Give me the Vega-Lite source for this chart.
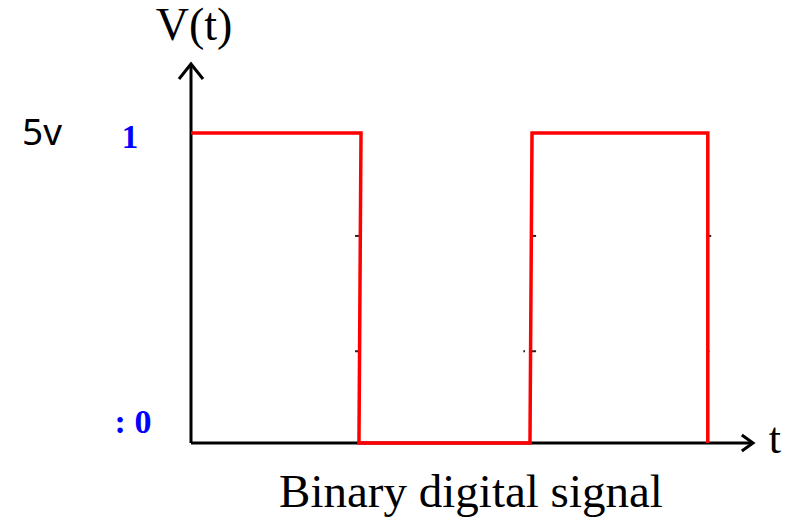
{
  "$schema": "https://vega.github.io/schema/vega-lite/v6.json",
  "width": 790,
  "height": 526,
  "autosize": {"type": "fit", "contains": "padding"},
  "padding": 0,
  "background": "white",
  "config": {"view": {"stroke": null}},
  "datasets": {
    "signal": [
      {"t": 0, "V": 5},
      {"t": 1.0, "V": 5},
      {"t": 0.988, "V": 0},
      {"t": 1.994, "V": 0},
      {"t": 2.006, "V": 5},
      {"t": 3.04, "V": 5},
      {"t": 3.04, "V": 0}
    ],
    "axes": [
      {"t": 0, "V": 0, "t2": 3.3, "V2": 0},
      {"t": 0, "V": 0, "t2": 0, "V2": 6.1}
    ],
    "ticks": [
      {"t": 0.965, "t2": 0.995, "V": 3.34},
      {"t": 0.965, "t2": 0.995, "V": 1.48},
      {"t": 2.0, "t2": 2.03, "V": 3.34},
      {"t": 2.0, "t2": 2.03, "V": 1.48},
      {"t": 1.955, "t2": 1.965, "V": 1.48},
      {"t": 3.03, "t2": 3.06, "V": 3.34},
      {"t": 3.035, "t2": 3.05, "V": 1.48}
    ]
  },
  "encoding": {
    "x": {"field": "t", "type": "quantitative", "scale": {"domain": [-1.12353, 3.52353], "nice": false, "zero": false}, "axis": null},
    "y": {"field": "V", "type": "quantitative", "scale": {"domain": [-1.3387, 7.1452], "nice": false, "zero": false}, "axis": null}
  },
  "layer": [
    {
      "data": {"name": "axes"},
      "mark": {"type": "rule", "color": "black", "strokeWidth": 3},
      "encoding": {"x2": {"field": "t2"}, "y2": {"field": "V2"}}
    },
    {
      "data": {"name": "ticks"},
      "mark": {"type": "rule", "color": "#222222", "strokeWidth": 2},
      "encoding": {"x2": {"field": "t2"}}
    },
    {
      "data": {"values": [{"t": 0, "V": 6.113}]},
      "mark": {"type": "point", "shape": "M-1,1.25L0,0L1,1.25", "size": 576, "filled": false, "stroke": "black", "strokeWidth": 3, "opacity": 1}
    },
    {
      "data": {"values": [{"t": 3.306, "V": 0}]},
      "mark": {"type": "point", "shape": "M-1.4,-1L0,0L-1.4,1", "size": 256, "filled": false, "stroke": "black", "strokeWidth": 3, "opacity": 1}
    },
    {
      "data": {"name": "signal"},
      "mark": {"type": "line", "color": "#ff0000", "strokeWidth": 3.5, "strokeJoin": "miter"},
      "encoding": {"order": {"value": null}}
    },
    {
      "data": {"values": [{"label": "V(t)", "t": 0.018, "V": 6.5}]},
      "mark": {"type": "text", "font": "Liberation Serif", "fontSize": 46, "align": "center", "baseline": "alphabetic", "color": "black"},
      "encoding": {"text": {"field": "label"}}
    },
    {
      "data": {"values": [{"label": "t", "t": 3.435, "V": -0.161}]},
      "mark": {"type": "text", "font": "Liberation Serif", "fontSize": 44, "align": "center", "baseline": "alphabetic", "color": "black"},
      "encoding": {"text": {"field": "label"}}
    },
    {
      "data": {"values": [{"label": "Binary digital signal", "t": 1.647, "V": -1.03}]},
      "mark": {"type": "text", "font": "Liberation Serif", "fontSize": 47, "align": "center", "baseline": "alphabetic", "color": "black"},
      "encoding": {"text": {"field": "label"}}
    },
    {
      "data": {"values": [{"label": "5v", "t": -0.994, "V": 4.806}]},
      "mark": {"type": "text", "font": "Noto Sans", "fontSize": 37, "align": "left", "baseline": "alphabetic", "color": "black"},
      "encoding": {"text": {"field": "label"}}
    },
    {
      "data": {"values": [{"label": "1", "t": -0.359, "V": 4.76}]},
      "mark": {"type": "text", "font": "Liberation Serif", "fontSize": 33, "fontWeight": "bold", "align": "center", "baseline": "alphabetic", "color": "#0000ff"},
      "encoding": {"text": {"field": "label"}}
    },
    {
      "data": {"values": [{"label": ": 0", "t": -0.341, "V": 0.161}]},
      "mark": {"type": "text", "font": "Liberation Serif", "fontSize": 34, "fontWeight": "bold", "align": "center", "baseline": "alphabetic", "color": "#0000ff"},
      "encoding": {"text": {"field": "label"}}
    }
  ]
}
